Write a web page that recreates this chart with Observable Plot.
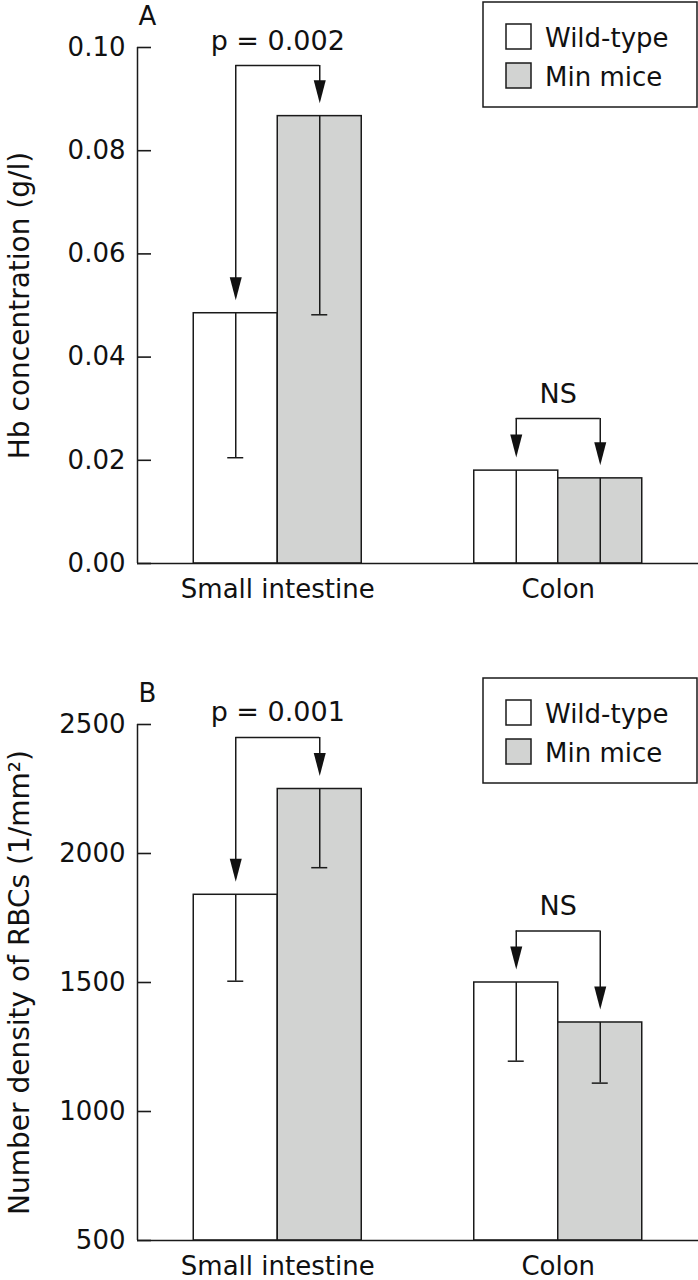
<!DOCTYPE html>
<html><head><meta charset="utf-8">
<script src="https://cdn.jsdelivr.net/npm/d3@7"></script>
<script src="https://cdn.jsdelivr.net/npm/@observablehq/plot@0.6"></script>
<style>
body{margin:0;background:#fff;font-family:"DejaVu Sans",sans-serif;}
#wrap{position:relative;width:698px;height:1280px;overflow:hidden;background:#fff}
.panel{position:absolute;left:0;width:698px;height:640px}
.panel svg.legend{position:absolute;}
</style></head><body><div id="wrap"></div>
<script>
// ---- data ----
const categories = ["Small intestine", "Colon"];
const groups = ["Wild-type", "Min mice"];

// Panel A: Hb concentration (g/l)
const hbWild = [0.0485, 0.0180];
const hbWildLow = [0.0205, 0];
const hbMin = [0.0867, 0.0165];
const hbMinLow = [0.0482, 0];
const hbTicks = [0, 0.02, 0.04, 0.06, 0.08, 0.10];
const hbBracket = [0.0965, 0.0281];
const hbSig = ["p = 0.002", "NS"];

// Panel B: number density of RBCs (1/mm2)
const rbcWild = [1840, 1500];
const rbcWildLow = [1505, 1195];
const rbcMin = [2250, 1345];
const rbcMinLow = [1945, 1110];
const rbcTicks = [500, 1000, 1500, 2000, 2500];
const rbcBracket = [2450, 1700];
const rbcSig = ["p = 0.001", "NS"];

// ---- drawing ----
const INK = "#1a1a1a";
const GREY = "#d2d3d2";
const arrowHead = {draw(ctx) { ctx.moveTo(0, 0); ctx.lineTo(-6, -23); ctx.lineTo(6, -23); ctx.closePath(); }};

function panel({letter, wild, wildLow, minv, minLow, ticks, bracket, sig, title, fmt, marginTop, marginBottom}) {
  const lo = ticks[0], hi = ticks[ticks.length - 1];
  const rows = categories.map((c, i) => ({cat: c, wild: wild[i], wildLow: wildLow[i], min: minv[i], minLow: minLow[i], bracket: bracket[i], sig: sig[i]}));
  const band = 280.5, half = band / 2;
  return Plot.plot({
    width: 698, height: 640,
    marginLeft: 137, marginRight: 0, marginTop, marginBottom,
    x: {domain: categories, padding: 0, round: false},
    y: {domain: [lo, hi]},
    style: {fontFamily: "DejaVu Sans, sans-serif", background: "white", color: "#111", overflow: "visible"},
    marks: [
      // bars
      Plot.barY(rows, {x: "cat", y1: () => lo, y2: "wild", fill: "white", stroke: INK, strokeWidth: 1.5, insetLeft: half - 84, insetRight: half}),
      Plot.barY(rows, {x: "cat", y1: () => lo, y2: "min", fill: GREY, stroke: INK, strokeWidth: 1.5, insetLeft: half, insetRight: half - 84}),
      // error bars (lower)
      Plot.ruleX(rows, {x: "cat", y1: "wild", y2: d => Math.max(d.wildLow, lo), dx: -42, stroke: INK, strokeWidth: 1.5}),
      Plot.ruleX(rows, {x: "cat", y1: "min", y2: d => Math.max(d.minLow, lo), dx: 42, stroke: INK, strokeWidth: 1.5}),
      Plot.tickY(rows.filter(d => d.wildLow > lo), {x: "cat", y: "wildLow", dx: -42, insetLeft: half - 8, insetRight: half - 8, stroke: INK, strokeWidth: 1.5}),
      Plot.tickY(rows.filter(d => d.minLow > lo), {x: "cat", y: "minLow", dx: 42, insetLeft: half - 8, insetRight: half - 8, stroke: INK, strokeWidth: 1.5}),
      // significance brackets
      Plot.tickY(rows, {x: "cat", y: "bracket", insetLeft: half - 42, insetRight: half - 42, stroke: INK, strokeWidth: 1.5}),
      Plot.ruleX(rows, {x: "cat", y1: "bracket", y2: "wild", dx: -42, insetBottom: 20, stroke: INK, strokeWidth: 1.5}),
      Plot.ruleX(rows, {x: "cat", y1: "bracket", y2: "min", dx: 42, insetBottom: 20, stroke: INK, strokeWidth: 1.5}),
      Plot.dot(rows, {x: "cat", y: "wild", dx: -42, dy: -13, symbol: arrowHead, fill: "#111", stroke: null}),
      Plot.dot(rows, {x: "cat", y: "min", dx: 42, dy: -13, symbol: arrowHead, fill: "#111", stroke: null}),
      Plot.text(rows, {x: "cat", y: "bracket", text: "sig", dy: -16, lineAnchor: "bottom", fontSize: 27, fill: "#111"}),
      // axes lines and inward ticks
      Plot.ruleY([lo], {stroke: INK, strokeWidth: 1.5}),
      Plot.ruleX([categories[0]], {x: d => d, y1: () => lo, y2: () => hi, dx: -half, stroke: INK, strokeWidth: 1.5}),
      Plot.tickY(ticks, {x: () => categories[0], y: d => d, insetLeft: 0, insetRight: band - 14, stroke: INK, strokeWidth: 1.6}),
      Plot.axisY({ticks, tickSize: 0, tickPadding: 12, tickFormat: fmt, fontSize: 26, label: null, fill: "#111"}),
      Plot.axisX({tickSize: 0, tickPadding: 16, fontSize: 26, label: null, fill: "#111"}),
      // titles
      Plot.text([title], {frameAnchor: "left", textAnchor: "middle", lineAnchor: "middle", dx: -117, rotate: -90, fontSize: 28, fill: "#111"}),
      Plot.text([letter], {frameAnchor: "top-left", dx: 10, dy: -23, lineAnchor: "bottom", textAnchor: "middle", fontSize: 26, fill: "#111"})
    ]
  });
}

function legend(container, top) {
  const svg = d3.select(container).append("svg").attr("class", "legend")
    .attr("width", 216).attr("height", 110)
    .style("left", "482px").style("top", (top - 1) + "px")
    .style("font-family", "DejaVu Sans, sans-serif");
  svg.append("rect").attr("x", 1).attr("y", 1).attr("width", 214).attr("height", 105)
    .attr("fill", "white").attr("stroke", INK).attr("stroke-width", 1.5);
  const fills = ["white", GREY];
  groups.forEach((g, i) => {
    const y0 = 23 + i * 39;
    svg.append("rect").attr("x", 24).attr("y", y0).attr("width", 25).attr("height", 25)
      .attr("fill", fills[i]).attr("stroke", INK).attr("stroke-width", 1.5);
    svg.append("text").attr("x", 63).attr("y", y0 + 23).attr("font-size", 26).attr("fill", "#111").text(g);
  });
}

const wrap = document.getElementById("wrap");
const pA = document.createElement("div"); pA.className = "panel"; pA.style.top = "0px"; wrap.appendChild(pA);
const pB = document.createElement("div"); pB.className = "panel"; pB.style.top = "640px"; wrap.appendChild(pB);

pA.appendChild(panel({letter: "A", wild: hbWild, wildLow: hbWildLow, minv: hbMin, minLow: hbMinLow, ticks: hbTicks,
  bracket: hbBracket, sig: hbSig, title: "Hb concentration (g/l)", fmt: d3.format(".2f"), marginTop: 47, marginBottom: 77}));
pB.appendChild(panel({letter: "B", wild: rbcWild, wildLow: rbcWildLow, minv: rbcMin, minLow: rbcMinLow, ticks: rbcTicks,
  bracket: rbcBracket, sig: rbcSig, title: "Number density of RBCs (1/mm²)", fmt: d => String(d), marginTop: 84, marginBottom: 40}));
legend(pA, 2);
legend(pB, 38);
</script></body></html>
